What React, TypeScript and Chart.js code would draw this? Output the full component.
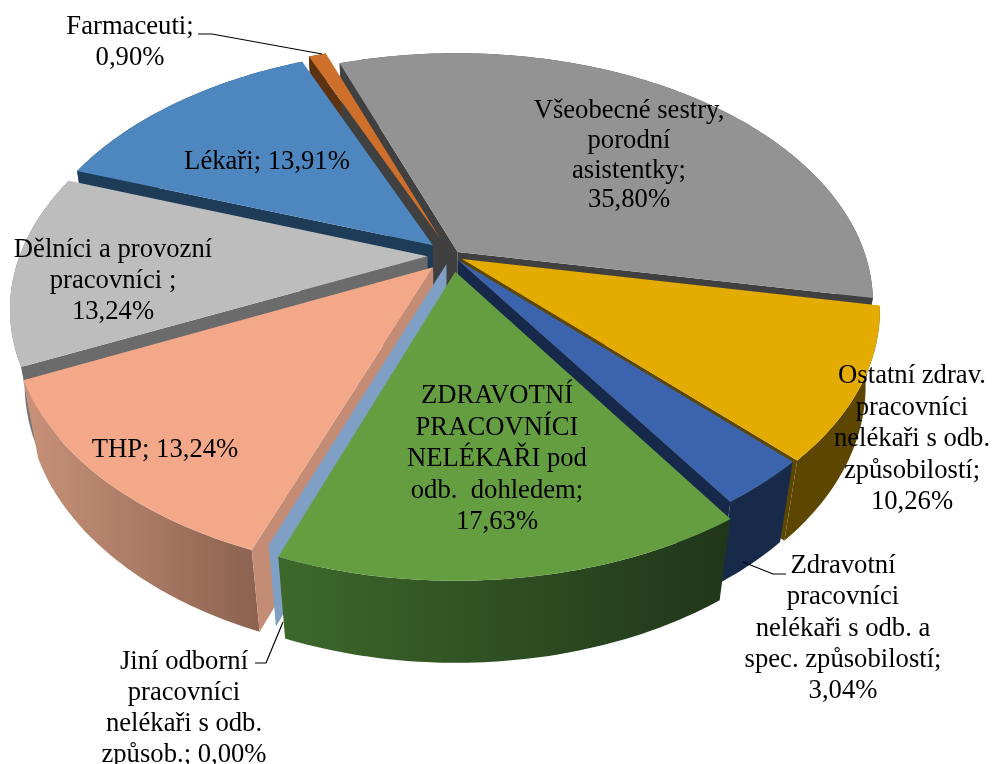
import React, { useEffect, useRef } from "react";
import { Chart, registerables } from "chart.js";

Chart.register(...registerables);

const categories = [
  "Všeobecné sestry, porodní asistentky",
  "Ostatní zdrav. pracovníci nelékaři s odb. způsobilostí",
  "Zdravotní pracovníci nelékaři s odb. a spec. způsobilostí",
  "ZDRAVOTNÍ PRACOVNÍCI NELÉKAŘI pod odb. dohledem",
  "Jiní odborní pracovníci nelékaři s odb. způsob.",
  "THP",
  "Dělníci a provozní pracovníci",
  "Lékaři",
  "Farmaceuti",
];
const shares = [35.8, 10.26, 3.04, 17.63, 0.0, 13.24, 13.24, 13.91, 0.9];

const labelLines = [
  ["Všeobecné sestry,", "porodní", "asistentky;", "35,80%"],
  ["Ostatní zdrav.", "pracovníci", "nelékaři s odb.", "způsobilostí;", "10,26%"],
  ["Zdravotní", "pracovníci", "nelékaři s odb. a", "spec. způsobilostí;", "3,04%"],
  ["ZDRAVOTNÍ", "PRACOVNÍCI", "NELÉKAŘI pod", "odb.  dohledem;", "17,63%"],
  ["Jiní odborní", "pracovníci", "nelékaři s odb.", "způsob.; 0,00%"],
  ["THP; 13,24%"],
  ["Dělníci a provozní", "pracovníci ;", "13,24%"],
  ["Lékaři; 13,91%"],
  ["Farmaceuti;", "0,90%"],
];

// styling and layout
const topColors = ["#939393", "#e4ab00", "#3c64ae", "#659e41", "#7f9fc5", "#f3a88a", "#bdbdbd", "#4e86bf", "#cf6f2c"];
const cutColors = ["#404040", "#5c4600", "#16294a", "#2c4a1c", "#7f9fc5", "#c48c75", "#6b6b6b", "#1e3b58", "#5c3210"];
const wallStart = ["#505050", "#5c4600", "#172a4a", "#3d682b", "#7f9fc5", "#c99279", "#7a7a7a", "#264a6e", "#5c3210"];
const wallEnd = ["#404040", "#5c4600", "#172a4a", "#20361a", "#7f9fc5", "#8b6250", "#6b6b6b", "#1e3b58", "#5c3210"];
const explode = [8, 10, 8, 24, 13, 24, 22, 24, 30];
const labelX = [629, 912, 843, 497, 184, 165, 113, 267, 130];
const labelY = [111, 376, 566, 396, 662, 450, 250, 162, 27];
const labelGap = [29.8, 31.5, 31.3, 31.5, 31, 31, 31, 31, 31];
const leaders = [
  [[198, 34], [212, 34], [322, 54]],
  [[743, 562], [773, 574], [786, 574]],
  [[255, 663], [266, 663], [283, 622]],
];

const VIEW = { cx: 452, cy: 256, rx: 408, ry: 240, k: 0.2, m: 0.033, h: 78 };
// small correction of the drawn angle, degrees clockwise from the top: [angle, shift]
const angleShift = [[0, 0], [100, 1.4], [134, 2.2], [144, 2.9], [175, 0.5], [202, -2], [246, -1.5], [290, -1], [337, 0], [360, 0]];

function warp(a: number) {
  let deg = (((a + Math.PI / 2) * 180) / Math.PI) % 360;
  if (deg < 0) deg += 360;
  for (let i = 1; i < angleShift.length; i++) {
    const [x0, s0] = angleShift[i - 1];
    const [x1, s1] = angleShift[i];
    if (deg <= x1) return a + ((s0 + ((s1 - s0) * (deg - x0)) / (x1 - x0)) * Math.PI) / 180;
  }
  return a;
}

function project(u: number, v: number, t: number) {
  const f = 1 / (1 - VIEW.k * v + VIEW.m * t);
  return { x: VIEW.cx + VIEW.rx * u * f, y: VIEW.cy + (VIEW.ry * v + VIEW.h * t) * f };
}

function fillPoly(ctx: CanvasRenderingContext2D, pts: { x: number; y: number }[], fill: any) {
  ctx.beginPath();
  pts.forEach((p, i) => (i ? ctx.lineTo(p.x, p.y) : ctx.moveTo(p.x, p.y)));
  ctx.closePath();
  ctx.fillStyle = fill;
  ctx.fill();
}

const pie3d = {
  id: "pie3d",
  beforeDatasetsDraw(chart: any) {
    const ctx: CanvasRenderingContext2D = chart.ctx;
    const arcs = chart.getDatasetMeta(0).data as any[];
    const slices = arcs.map((el, i) => {
      const p = el.getProps(["startAngle", "endAngle", "outerRadius"], true);
      const mid = (p.startAngle + p.endAngle) / 2;
      const o = el.options.offset / p.outerRadius;
      return { i, a0: warp(p.startAngle), a1: warp(p.endAngle), mid, ou: o * Math.cos(mid), ov: o * Math.sin(mid), top: el.options.backgroundColor };
    });
    const order = [...slices].sort((a, b) => Math.sin(a.mid) - Math.sin(b.mid));
    const rim = (s: any, t: number) => {
      const n = Math.max(2, Math.ceil((s.a1 - s.a0) * 60));
      const pts = [];
      for (let j = 0; j <= n; j++) {
        const a = s.a0 + ((s.a1 - s.a0) * j) / n;
        pts.push(project(s.ou + Math.cos(a), s.ov + Math.sin(a), t));
      }
      return pts;
    };
    const drawCut = (s: any, angle: number, sign: number) => {
      const t0 = project(s.ou, s.ov, 0);
      const t1 = project(s.ou, s.ov, 1);
      const e0 = project(s.ou + Math.cos(angle), s.ov + Math.sin(angle), 0);
      const e1 = project(s.ou + Math.cos(angle), s.ov + Math.sin(angle), 1);
      const rx = e0.x - t0.x, ry = e0.y - t0.y, dx = e1.x - e0.x, dy = e1.y - e0.y;
      if ((rx * dy - ry * dx) * sign > 0) fillPoly(ctx, [t0, e0, e1, t1], cutColors[s.i]);
    };
    for (const s of order) {
      if (s.a1 > s.a0) {
        const upper = rim(s, 0);
        const lower = rim(s, 1);
        const xs = upper.concat(lower).map((p) => p.x);
        const g = ctx.createLinearGradient(Math.min(...xs), 0, Math.max(...xs), 0);
        g.addColorStop(0, wallStart[s.i]);
        g.addColorStop(1, wallEnd[s.i]);
        fillPoly(ctx, upper.concat(lower.reverse()), g);
      }
      drawCut(s, s.a0, -1);
      drawCut(s, s.a1, 1);
    }
    for (const s of order) {
      if (s.a1 > s.a0) fillPoly(ctx, [project(s.ou, s.ov, 0), ...rim(s, 0)], s.top);
    }
    return false;
  },
  afterDraw(chart: any) {
    const ctx: CanvasRenderingContext2D = chart.ctx;
    ctx.save();
    ctx.strokeStyle = "#000";
    ctx.lineWidth = 1.2;
    for (const l of leaders) {
      ctx.beginPath();
      l.forEach(([x, y], i) => (i ? ctx.lineTo(x, y) : ctx.moveTo(x, y)));
      ctx.stroke();
    }
    ctx.fillStyle = "#000";
    ctx.font = '26.67px "Liberation Serif"';
    ctx.textAlign = "center";
    ctx.textBaseline = "middle";
    labelLines.forEach((lines, i) => {
      lines.forEach((line, j) => ctx.fillText(line, labelX[i], labelY[i] + j * labelGap[i]));
    });
    ctx.restore();
  },
};

export default function App() {
  const ref = useRef<HTMLCanvasElement>(null);
  useEffect(() => {
    document.body.style.margin = "0";
    const chart = new Chart(ref.current as HTMLCanvasElement, {
      type: "pie",
      data: {
        labels: categories,
        datasets: [{ data: shares, backgroundColor: topColors, borderWidth: 0, offset: explode }],
      },
      options: {
        animation: false,
        responsive: false,
        rotation: -20,
        events: [],
        plugins: { legend: { display: false }, tooltip: { enabled: false } },
      },
      plugins: [pie3d],
    } as any);
    return () => chart.destroy();
  }, []);
  return <canvas ref={ref} width={994} height={764} style={{ display: "block", background: "#fff" }} />;
}
